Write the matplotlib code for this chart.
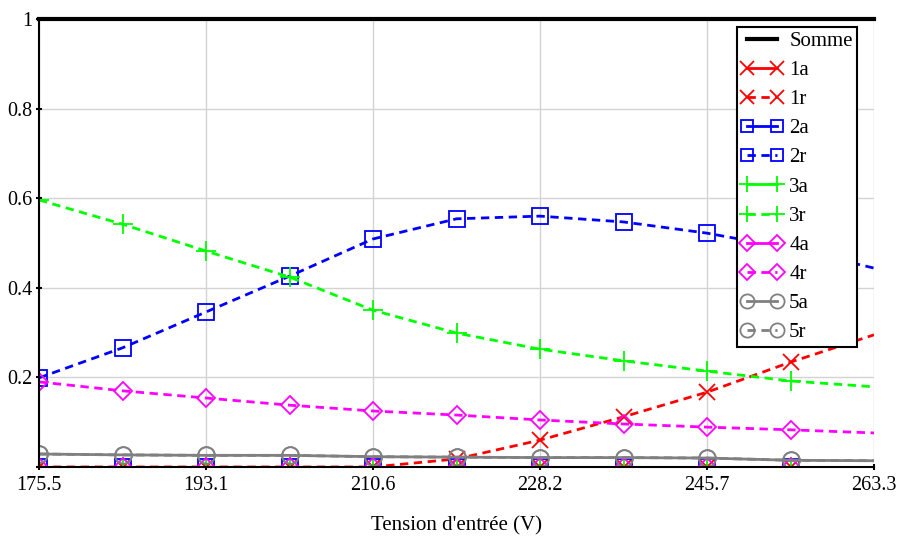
import matplotlib
matplotlib.use("Agg")
import matplotlib.pyplot as plt

plt.rcParams['font.family'] = ['Liberation Serif', 'DejaVu Serif']

tension = [175.5, 184.28, 193.06, 201.84, 210.62, 219.4, 228.18, 236.96, 245.74, 254.52, 263.3]
xtick_vals = [175.5, 193.06, 210.62, 228.18, 245.74, 263.3]
xtick_labels = ['175.5', '193.1', '210.6', '228.2', '245.7', '263.3']
ytick_vals = [0, 0.2, 0.4, 0.6, 0.8, 1.0]
ytick_labels = ['', '0.2', '0.4', '0.6', '0.8', '1']

somme = [1.0] * 11
s1a = [0.0] * 11
s1r = [0.0, 0.0, 0.0, 0.0, 0.0, 0.018, 0.060, 0.112, 0.167, 0.234, 0.295]
s2a = [0.0] * 11
s2r = [0.199, 0.266, 0.346, 0.426, 0.509, 0.554, 0.560, 0.547, 0.522, 0.488, 0.444]
s3a = [0.0] * 11
s3r = [0.596, 0.542, 0.482, 0.424, 0.350, 0.299, 0.263, 0.237, 0.214, 0.192, 0.179]
s4a = [0.0] * 11
s4r = [0.190, 0.170, 0.154, 0.138, 0.125, 0.116, 0.105, 0.096, 0.089, 0.083, 0.076]
s5a = [0.029, 0.027, 0.026, 0.026, 0.023, 0.022, 0.021, 0.021, 0.020, 0.015, 0.014]
s5r = [0.029, 0.027, 0.026, 0.026, 0.023, 0.022, 0.021, 0.021, 0.020, 0.015, 0.014]

fig = plt.figure(figsize=(9.01, 5.37), dpi=100)
ax = fig.add_axes([39/901, 1-467/537, 835/901, 448/537])

dash = (0, (3, 2))
mk = list(range(10))
series = [
    ('Somme', somme, 'black', '-', None, 0),
    ('1a', s1a, '#ff0000', '-', 'x', 12),
    ('1r', s1r, '#ff0000', dash, 'x', 12),
    ('2a', s2a, '#0000ff', '-', 's', 11),
    ('2r', s2r, '#0000ff', dash, 's', 11),
    ('3a', s3a, '#00ff00', '-', '+', 14),
    ('3r', s3r, '#00ff00', dash, '+', 14),
    ('4a', s4a, '#ff00ff', '-', 'D', 9),
    ('4r', s4r, '#ff00ff', dash, 'D', 9),
    ('5a', s5a, '#808080', '-', 'o', 12),
    ('5r', s5r, '#808080', dash, 'o', 12),
]
for name, vals, col, ls, m, ms in series:
    if m is None:
        ax.plot(tension, vals, color=col, lw=3, ls=ls, label=name, clip_on=False, zorder=5)
    else:
        ax.plot(tension, vals, color=col, lw=2, ls=ls, marker=m, ms=ms,
                mfc='none', mec=col, mew=1.3, markevery=mk, label=name)

ax.set_xlim(175.5, 263.3)
ax.set_ylim(0, 1)
ax.set_xticks(xtick_vals)
ax.set_xticklabels(xtick_labels)
ax.set_yticks(ytick_vals)
ax.set_yticklabels(ytick_labels)
ax.grid(True, color='#d3d3d3', lw=1)
ax.set_axisbelow(True)
for s in ['top', 'right']:
    ax.spines[s].set_visible(False)
for s in ['left', 'bottom']:
    ax.spines[s].set_linewidth(1.5)
ax.tick_params(axis='both', labelsize=14.5, width=1.5, length=5, direction='inout')
ax.tick_params(axis='x', pad=4)
ax.tick_params(axis='y', pad=2)
ax.set_xlabel("Tension d'entrée (V)", fontsize=15, labelpad=15)

leg = ax.legend(loc='upper left', bbox_to_anchor=(0.836, 0.982), fontsize=15,
                numpoints=2, handlelength=2.0, labelspacing=0.46, borderpad=0.2,
                handletextpad=0.3, fancybox=False, framealpha=1, edgecolor='black',
                borderaxespad=0, markerscale=0.85)
leg.get_frame().set_linewidth(1.5)

fig.savefig('out.png', dpi=100)
